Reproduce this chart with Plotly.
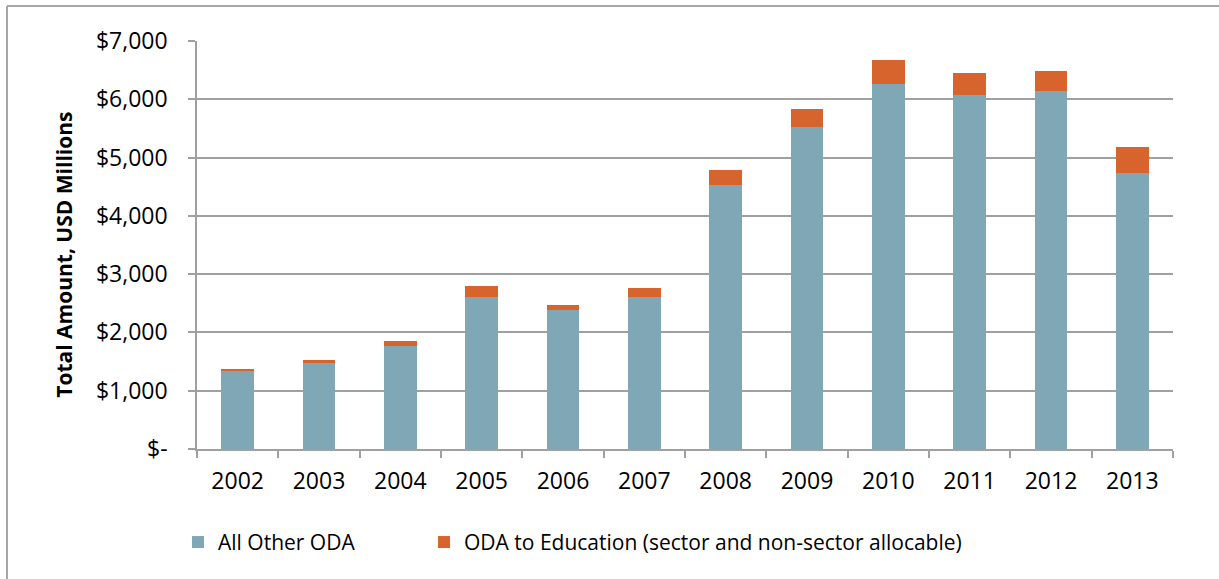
import plotly.graph_objects as go

years = ["2002", "2003", "2004", "2005", "2006", "2007", "2008", "2009", "2010", "2011", "2012", "2013"]
other_oda = [1335, 1480, 1760, 2600, 2380, 2600, 4530, 5520, 6270, 6070, 6140, 4730]
edu_oda = [35, 45, 90, 200, 90, 160, 250, 310, 410, 380, 340, 460]

tick_vals = [0, 1000, 2000, 3000, 4000, 5000, 6000, 7000]
tick_text = ["$-", "$1,000", "$2,000", "$3,000", "$4,000", "$5,000", "$6,000", "$7,000"]

FONT = "Open Sans"
BLUE = "#7FA7B5"
ORANGE = "#D6642C"
GRID = "#A0A0A0"

fig = go.Figure()
fig.add_trace(go.Bar(x=years, y=other_oda, name="All Other ODA",
                     marker=dict(color=BLUE, line=dict(width=0)), width=0.4,
                     legend="legend"))
fig.add_trace(go.Bar(x=years, y=edu_oda, name="ODA to Education (sector and non-sector allocable)",
                     marker=dict(color=ORANGE, line=dict(width=0)), width=0.4,
                     legend="legend2"))

W, H = 1219, 579
L, R, T, B = 197, 46, 41, 129.5
pw = W - L - R
ph = H - T - B

def px_x(x):
    return (x - L) / pw

def px_y(y):
    return (H - B - y) / ph

leg_font = dict(family=FONT, size=21, color="black")
fig.update_layout(
    barmode="stack",
    width=W, height=H,
    margin=dict(l=L, r=R, t=T, b=B, autoexpand=False),
    plot_bgcolor="white", paper_bgcolor="white",
    font=dict(family=FONT, color="black", size=20),
    showlegend=True,
    legend=dict(x=px_x(178), y=px_y(543), xanchor="left", yanchor="middle",
                font=leg_font, itemwidth=30, bgcolor="rgba(0,0,0,0)"),
    legend2=dict(x=px_x(424), y=px_y(543), xanchor="left", yanchor="middle",
                 font=leg_font, itemwidth=30, bgcolor="rgba(0,0,0,0)"),
    xaxis=dict(showgrid=False, showline=True, linecolor=GRID, linewidth=1.5,
               ticks="outside", tickson="boundaries", ticklen=7, tickcolor=GRID, tickwidth=1.5,
               ticklabelstandoff=11,
               tickfont=dict(family=FONT, size=23, color="black"), range=[-0.5, 11.5]),
    yaxis=dict(range=[0, 7000], tickvals=tick_vals, ticktext=tick_text,
               showgrid=True, gridcolor=GRID, gridwidth=1.5, zeroline=False,
               showline=True, linecolor=GRID, linewidth=1.5,
               ticks="outside", ticklen=7, tickcolor=GRID, tickwidth=1.5,
               ticklabelstandoff=16,
               tickfont=dict(family=FONT, size=23, color="black")),
)

fig.add_annotation(text="<b>Total Amount, USD Millions</b>", xref="paper", yref="paper",
                   x=px_x(64), y=px_y(255), textangle=-90, showarrow=False,
                   font=dict(family=FONT, size=21, color="black"),
                   xanchor="center", yanchor="middle")

# outer frame (left and top edges)
fig.add_shape(type="line", xref="paper", yref="paper", x0=px_x(7), x1=px_x(7),
              y0=px_y(6), y1=px_y(600), line=dict(color="#A6A6A6", width=2))
fig.add_shape(type="line", xref="paper", yref="paper", x0=px_x(7), x1=px_x(1230),
              y0=px_y(6), y1=px_y(6), line=dict(color="#A6A6A6", width=2))

fig.write_html("out.html", config={"displayModeBar": False},
               post_script="document.body.style.margin='0';document.body.style.overflow='hidden';")
